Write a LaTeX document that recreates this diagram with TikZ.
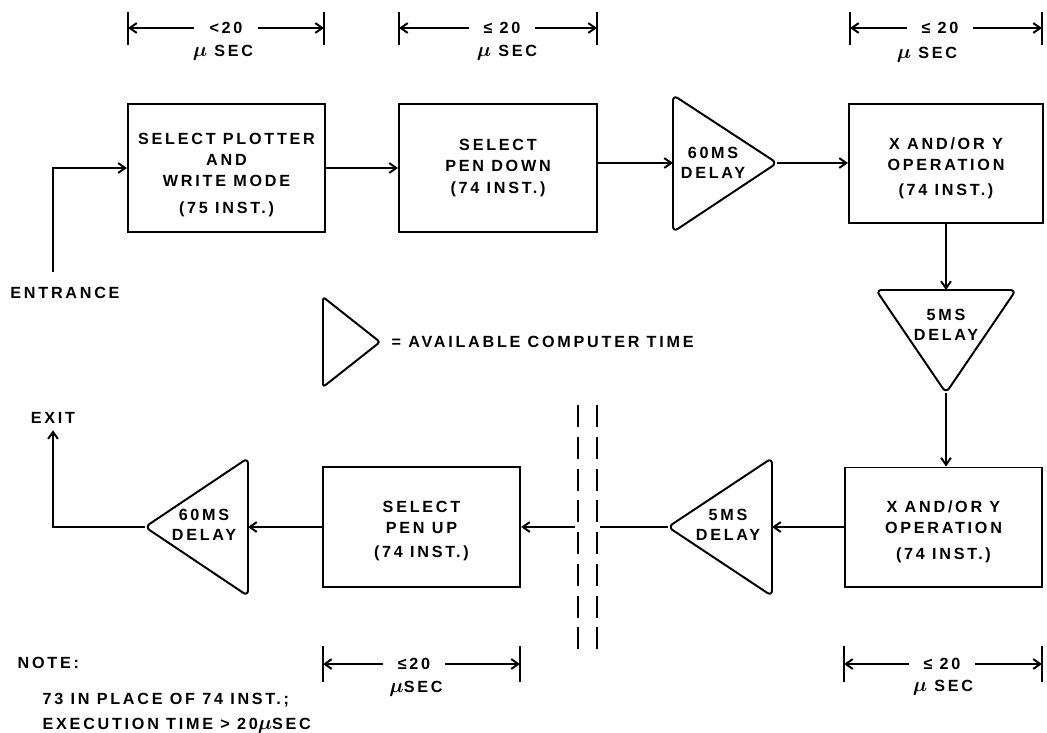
\documentclass[tikz,border=0pt]{standalone}
\usepackage{fontspec}
\setmainfont{Liberation Sans}[LetterSpace=17]
\usetikzlibrary{arrows.meta}
\newcommand{\umu}{{\fontsize{15}{15}\selectfont\boldmath$\mu$}}

\begin{document}
\begin{tikzpicture}[x=0.025cm,y=-0.025cm,line width=1.4pt,
    font=\fontsize{11.5}{15}\selectfont\bfseries,
    block/.style={draw,rectangle,align=center,minimum width=4.93cm,inner sep=0pt},
    delay/.style={draw,rounded corners=4pt,line join=round},
    delaytext/.style={align=center,font=\fontsize{11.5}{14}\selectfont\bfseries},
    flow/.style={-{Straight Barb[length=5pt,width=7pt]}},
    dimlabel/.style={inner xsep=10pt,inner ysep=1pt},
    cut/.style={dash pattern=on 15.6pt off 7pt}]
  \useasboundingbox (0,0) rectangle (1047,732);

  % blocks
  \node[block,minimum height=3.2cm] (plotter) at (226.5,168) {\rule{0pt}{18pt}SELECT PLOTTER\\AND\\WRITE MODE\\[4pt](75 INST.)};
  \node[block,minimum height=3.2cm,minimum width=4.95cm] (pendown) at (498,168) {SELECT\\PEN DOWN\\(74 INST.)};
  \node[block,minimum height=2.975cm,minimum width=4.85cm] (xyfirst) at (946,163.5) {\rule{0pt}{15pt}X AND/OR Y\\OPERATION\\[3pt](74 INST.)};
  \node[block,minimum height=2.975cm] (xysecond) at (943.5,527) {\rule{0pt}{15pt}X AND/OR Y\\OPERATION\\[3pt](74 INST.)};
  \node[block,minimum height=3cm] (penup) at (421.5,527) {\rule{0pt}{14pt}SELECT\\PEN UP\\[2pt](74 INST.)};

  % delays
  \draw[delay] (673,95) -- (777,163) -- (673,232) -- cycle;
  \coordinate (dsixtyin) at (673,163);
  \coordinate (dsixtyout) at (777,163);
  \node[delaytext] (dsixty) at (713,163) {60MS\\DELAY};

  \draw[delay] (876,290) -- (1016,290) -- (946,393) -- cycle;
  \coordinate (dfivein) at (946,290);
  \coordinate (dfiveout) at (946,393);
  \node[delaytext] (dfive) at (946,325) {5MS\\DELAY};

  \draw[delay] (772,458) -- (772,596) -- (668,527) -- cycle;
  \coordinate (dfivebin) at (772,527);
  \coordinate (dfivebout) at (668,527);
  \node[delaytext] (dfiveb) at (728,525) {5MS\\DELAY};

  \draw[delay] (248,458) -- (248,596) -- (145,527) -- cycle;
  \coordinate (dsixtybin) at (248,527);
  \coordinate (dsixtybout) at (145,527);
  \node[delaytext] (dsixtyb) at (204,525) {60MS\\DELAY};

  % entrance and exit
  \node (entrance) at (65,293) {ENTRANCE};
  \coordinate (entry) at (53,272);
  \node[inner sep=4pt] (exit) at (53,418) {EXIT};

  % legend
  \draw[delay,rounded corners=2pt] (323,297) -- (380,342) -- (323,387) -- cycle;
  \node[anchor=west] (legend) at (386,342) {= AVAILABLE COMPUTER TIME};

  % flow
  \draw[flow] (entry) |- (plotter.west);
  \draw[flow] (plotter) -- (pendown);
  \draw[flow] (pendown.east |- dsixtyin) -- (dsixtyin);
  \draw[flow] (dsixtyout) -- (xyfirst.west |- dsixtyout);
  \draw[flow] (xyfirst.south) -- (dfivein);
  \draw[flow] (dfiveout) -- (dfiveout |- xysecond.north);
  \draw[flow] (xysecond.west) -- (dfivebin);
  \coordinate (cutright) at (600,527);
  \coordinate (cutleft) at (575,527);
  \draw (dfivebout) -- (cutright);
  \draw[flow] (cutleft) -- (penup.east);
  \draw[flow] (penup.west) -- (dsixtybin);
  \draw[flow] (dsixtybout) -| (exit.south);

  % break
  \draw[cut] (578,405) -- (578,655);
  \draw[cut] (597,405) -- (597,655);

  % timing
  \node[dimlabel] (dima) at (226,28) {<20};
  \node (dimaunit) at (223,53) {\umu{} SEC};
  \coordinate (dimal) at (128,28);
  \coordinate (dimar) at (324,28);
  \draw[flow] (dima) -- (dimal);
  \draw[flow] (dima) -- (dimar);
  \draw (128,12) -- (128,45);
  \draw (324,12) -- (324,45);

  \node[dimlabel] (dimb) at (502,28) {≤ 20};
  \node (dimbunit) at (507,53) {\umu{} SEC};
  \coordinate (dimbl) at (399,28);
  \coordinate (dimbr) at (597,28);
  \draw[flow] (dimb) -- (dimbl);
  \draw[flow] (dimb) -- (dimbr);
  \draw (399,12) -- (399,45);
  \draw (597,12) -- (597,45);

  \node[dimlabel] (dimc) at (940,28) {≤ 20};
  \node (dimcunit) at (927,55) {\umu{} SEC};
  \coordinate (dimcl) at (850,28);
  \coordinate (dimcr) at (1042,28);
  \draw[flow] (dimc) -- (dimcl);
  \draw[flow] (dimc) -- (dimcr);
  \draw (850,12) -- (850,45);
  \draw (1042,12) -- (1042,45);

  \node[dimlabel] (dimd) at (414,664) {≤20};
  \node (dimdunit) at (416,689) {\umu SEC};
  \coordinate (dimdl) at (323,664);
  \coordinate (dimdr) at (520,664);
  \draw[flow] (dimd) -- (dimdl);
  \draw[flow] (dimd) -- (dimdr);
  \draw (323,646) -- (323,682);
  \draw (520,646) -- (520,682);

  \node[dimlabel] (dime) at (942,664) {≤ 20};
  \node (dimeunit) at (943,688) {\umu{} SEC};
  \coordinate (dimel) at (844,664);
  \coordinate (dimer) at (1042,664);
  \draw[flow] (dime) -- (dimel);
  \draw[flow] (dime) -- (dimer);
  \draw (844,646) -- (844,682);
  \draw (1042,646) -- (1042,682);

  % note
  \node[anchor=west] (note) at (12,663) {NOTE:};
  \node[anchor=west,align=left] (notetext) at (37,713) {73 IN PLACE OF 74 INST.;\\[3pt]EXECUTION TIME > 20\umu SEC};
\end{tikzpicture}
\end{document}
